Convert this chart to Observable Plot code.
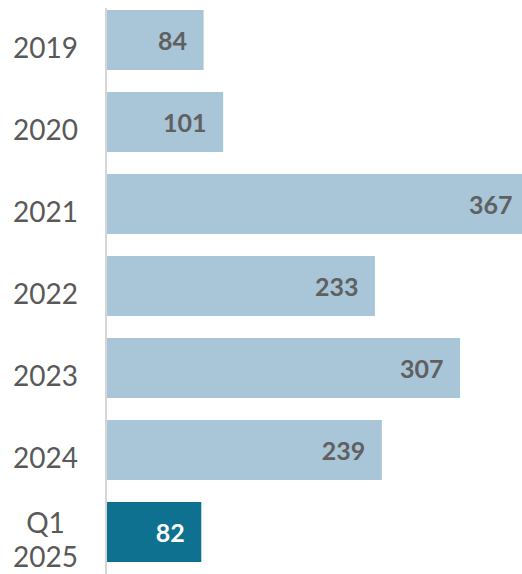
<!DOCTYPE html>
<html>
<head>
<meta charset="utf-8">
<script src="https://cdn.jsdelivr.net/npm/d3@7"></script>
<script src="https://cdn.jsdelivr.net/npm/@observablehq/plot@0.6"></script>
<style>
  html, body { margin: 0; padding: 0; background: #fff; }
  #chart svg { display: block; }
</style>
</head>
<body>
<div id="chart"></div>
<script>
const categories = ["2019", "2020", "2021", "2022", "2023", "2024", "Q1\n2025"];
const values = [84, 101, 367, 233, 307, 239, 82];
const highlight = [false, false, false, false, false, false, true];

const data = categories.map((c, i) => ({cat: c, value: values[i], hl: highlight[i]}));

const chart = Plot.plot({
  width: 522,
  height: 574,
  marginTop: 0,
  marginBottom: 0,
  marginLeft: 107,
  marginRight: 0,
  style: {fontFamily: "Lato, sans-serif", background: "#fff"},
  x: {domain: [0, 367], range: [107, 529], axis: null},
  y: {domain: categories, range: [-1, 573], paddingInner: 0.27, paddingOuter: 0.135, label: null},
  marks: [
    Plot.barX(data, {
      y: "cat", x: "value",
      fill: d => d.hl ? "#0e7190" : "#a8c6d8"
    }),
    Plot.ruleX([0], {dx: -1.5, stroke: "#d6d6d6", strokeWidth: 2, insetTop: 8}),
    Plot.axisY({
      tickSize: 0, tickPadding: 62, textAnchor: "middle",
      fontSize: 28, fill: "#595959", dy: 6.5, lineHeight: 1.22, label: null
    }),
    Plot.text(data, {
      y: "cat", x: "value", text: d => String(d.value),
      textAnchor: "end", dx: -17, dy: 1,
      fontSize: 25, fontWeight: "bold",
      fill: d => d.hl ? "#ffffff" : "#606060"
    })
  ]
});
document.getElementById("chart").appendChild(chart);
</script>
</body>
</html>
